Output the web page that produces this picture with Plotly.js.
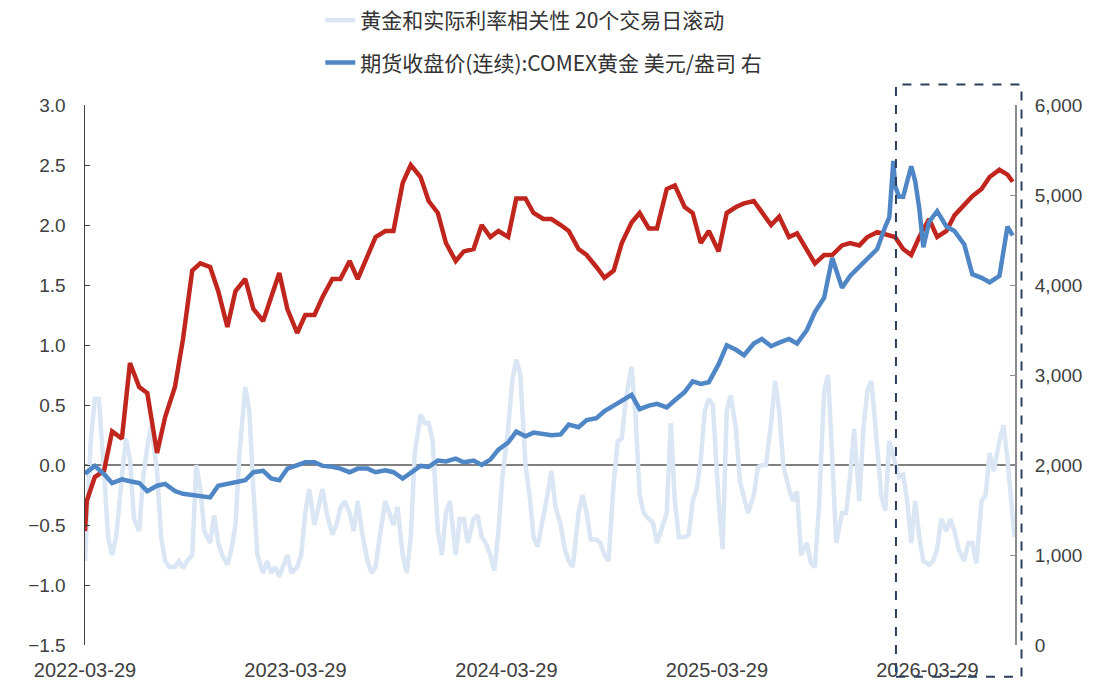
<!DOCTYPE html>
<html>
<head>
<meta charset="utf-8">
<script src="https://cdn.plot.ly/plotly-3.0.1.min.js"></script>
<style>
html, body { margin: 0; padding: 0; background: #fff; }
#chart { width: 1116px; height: 680px; }
</style>
</head>
<body>
<div id="chart"></div>
<script>
// 黄金和实际利率相关性 20个交易日滚动 (left axis), weekly readings
const corrDates = [
  "2022-03-29",
  "2022-04-01","2022-04-08","2022-04-15","2022-04-22",
  "2022-05-01","2022-05-08","2022-05-15","2022-05-22",
  "2022-06-01","2022-06-08","2022-06-15","2022-06-22",
  "2022-07-01","2022-07-08","2022-07-15","2022-07-22",
  "2022-08-01","2022-08-08","2022-08-15","2022-08-22",
  "2022-09-01","2022-09-08","2022-09-15","2022-09-22",
  "2022-10-01","2022-10-08","2022-10-15","2022-10-22",
  "2022-11-01","2022-11-08","2022-11-15","2022-11-22",
  "2022-12-01","2022-12-08","2022-12-15","2022-12-22",
  "2023-01-01","2023-01-08","2023-01-15","2023-01-22",
  "2023-02-01","2023-02-08","2023-02-15","2023-02-22",
  "2023-03-01","2023-03-08","2023-03-15","2023-03-22",
  "2023-04-01","2023-04-08","2023-04-15","2023-04-22",
  "2023-05-01","2023-05-08","2023-05-15","2023-05-22",
  "2023-06-01","2023-06-08","2023-06-15","2023-06-22",
  "2023-07-01","2023-07-08","2023-07-15","2023-07-22",
  "2023-08-01","2023-08-08","2023-08-15","2023-08-22",
  "2023-09-01","2023-09-08","2023-09-15","2023-09-22",
  "2023-10-01","2023-10-08","2023-10-15","2023-10-22",
  "2023-11-01","2023-11-08","2023-11-15","2023-11-22",
  "2023-12-01","2023-12-08","2023-12-15","2023-12-22",
  "2024-01-01","2024-01-08","2024-01-15","2024-01-22",
  "2024-02-01","2024-02-08","2024-02-15","2024-02-22",
  "2024-03-01","2024-03-08","2024-03-15","2024-03-22",
  "2024-04-01","2024-04-08","2024-04-15","2024-04-22",
  "2024-05-01","2024-05-08","2024-05-15","2024-05-22",
  "2024-06-01","2024-06-08","2024-06-15","2024-06-22",
  "2024-07-01","2024-07-08","2024-07-15","2024-07-22",
  "2024-08-01","2024-08-08","2024-08-15","2024-08-22",
  "2024-09-01","2024-09-08","2024-09-15","2024-09-22",
  "2024-10-01","2024-10-08","2024-10-15","2024-10-22",
  "2024-11-01","2024-11-08","2024-11-15","2024-11-22",
  "2024-12-01","2024-12-08","2024-12-15","2024-12-22",
  "2025-01-01","2025-01-08","2025-01-15","2025-01-22",
  "2025-02-01","2025-02-08","2025-02-15","2025-02-22",
  "2025-03-01","2025-03-08","2025-03-15","2025-03-22",
  "2025-04-01","2025-04-08","2025-04-15","2025-04-22",
  "2025-05-01","2025-05-08","2025-05-15","2025-05-22",
  "2025-06-01","2025-06-08","2025-06-15","2025-06-22",
  "2025-07-01","2025-07-08","2025-07-15","2025-07-22",
  "2025-08-01","2025-08-08","2025-08-15","2025-08-22",
  "2025-09-01","2025-09-08","2025-09-15","2025-09-22",
  "2025-10-01","2025-10-08","2025-10-15","2025-10-22",
  "2025-11-01","2025-11-08","2025-11-15","2025-11-22",
  "2025-12-01","2025-12-08","2025-12-15","2025-12-22",
  "2026-01-01","2026-01-08","2026-01-15","2026-01-22",
  "2026-02-01","2026-02-08","2026-02-15","2026-02-22",
  "2026-03-01","2026-03-08","2026-03-15","2026-03-22",
  "2026-04-01","2026-04-08","2026-04-15","2026-04-22",
  "2026-05-01","2026-05-08","2026-05-15","2026-05-22",
  "2026-06-01","2026-06-08","2026-06-15","2026-06-22",
  "2026-07-01","2026-07-08","2026-07-15","2026-07-22",
  "2026-08-01","2026-08-08","2026-08-15","2026-08-22",
  "2026-08-27"
];
const corrValues = [
  -0.80,
  -0.50, 0.20, 0.55, 0.55,
  -0.05, -0.60, -0.75, -0.60,
  -0.10, 0.22, 0.05, -0.45,
  -0.55, -0.10, 0.15, 0.33,
  -0.05, -0.60, -0.80, -0.85,
  -0.85, -0.80, -0.86, -0.80,
  -0.75, 0.00, -0.20, -0.55,
  -0.65, -0.42, -0.65, -0.75,
  -0.83, -0.70, -0.50, 0.10,
  0.65, 0.45, -0.20, -0.75,
  -0.90, -0.80, -0.90, -0.85,
  -0.93, -0.85, -0.75, -0.90,
  -0.85, -0.75, -0.40, -0.20,
  -0.50, -0.35, -0.20, -0.40,
  -0.58, -0.50, -0.36, -0.30,
  -0.40, -0.55, -0.30, -0.55,
  -0.80, -0.90, -0.85, -0.60,
  -0.30, -0.40, -0.50, -0.35,
  -0.75, -0.90, -0.60, 0.10,
  0.42, 0.35, 0.35, 0.20,
  -0.55, -0.75, -0.40, -0.30,
  -0.75, -0.45, -0.45, -0.65,
  -0.45, -0.42, -0.60, -0.65,
  -0.75, -0.88, -0.55, -0.10,
  0.30, 0.70, 0.88, 0.75,
  0.00, -0.25, -0.60, -0.68,
  -0.45, -0.25, -0.05, -0.35,
  -0.50, -0.70, -0.80, -0.85,
  -0.40, -0.25, -0.40, -0.62,
  -0.62, -0.65, -0.75, -0.80,
  -0.15, 0.20, 0.22, 0.55,
  0.82, 0.40, -0.25, -0.40,
  -0.45, -0.48, -0.65, -0.55,
  -0.40, 0.35, -0.30, -0.60,
  -0.60, -0.58, -0.30, -0.20,
  0.05, 0.45, 0.55, 0.50,
  -0.30, -0.70, 0.45, 0.58,
  0.30, -0.14, -0.28, -0.40,
  -0.25, -0.02, 0.00, 0.00,
  0.35, 0.70, 0.45, 0.00,
  -0.20, -0.30, -0.22, -0.75,
  -0.65, -0.82, -0.85, -0.35,
  0.62, 0.75, 0.05, -0.65,
  -0.40, -0.40, -0.10, 0.30,
  -0.30, 0.30, 0.62, 0.70,
  0.15, -0.25, -0.38, 0.20,
  0.02, -0.10, -0.08, -0.30,
  -0.65, -0.30, -0.60, -0.80,
  -0.83, -0.80, -0.70, -0.45,
  -0.55, -0.45, -0.55, -0.70,
  -0.80, -0.65, -0.65, -0.82,
  -0.30, -0.25, 0.10, -0.05,
  0.20, 0.33, 0.05, -0.35,
  -0.60
];

// red series, left axis (no legend entry in the source), half-monthly readings
const redDates = [
  "2022-03-29",
  "2022-04-01","2022-04-15","2022-05-01","2022-05-15","2022-06-01","2022-06-15",
  "2022-07-01","2022-07-15","2022-08-01","2022-08-15","2022-09-01","2022-09-15",
  "2022-10-01","2022-10-15","2022-11-01","2022-11-15","2022-12-01","2022-12-15",
  "2023-01-01","2023-01-15","2023-02-01","2023-02-15","2023-03-01","2023-03-15",
  "2023-04-01","2023-04-15","2023-05-01","2023-05-15","2023-06-01","2023-06-15",
  "2023-07-01","2023-07-15","2023-08-01","2023-08-15","2023-09-01","2023-09-15",
  "2023-10-01","2023-10-15","2023-11-01","2023-11-15","2023-12-01","2023-12-15",
  "2024-01-01","2024-01-15","2024-02-01","2024-02-15","2024-03-01","2024-03-15",
  "2024-04-01","2024-04-15","2024-05-01","2024-05-15","2024-06-01","2024-06-15",
  "2024-07-01","2024-07-15","2024-08-01","2024-08-15","2024-09-01","2024-09-15",
  "2024-10-01","2024-10-15","2024-11-01","2024-11-15","2024-12-01","2024-12-15",
  "2025-01-01","2025-01-15","2025-02-01","2025-02-15","2025-03-01","2025-03-15",
  "2025-04-01","2025-04-15","2025-05-01","2025-05-15","2025-06-01","2025-06-15",
  "2025-07-01","2025-07-15","2025-08-01","2025-08-15","2025-09-01","2025-09-15",
  "2025-10-01","2025-10-15","2025-11-01","2025-11-15","2025-12-01","2025-12-15",
  "2026-01-01","2026-01-15","2026-02-01","2026-02-15","2026-03-01","2026-03-15",
  "2026-04-01","2026-04-15","2026-05-01","2026-05-15","2026-06-01","2026-06-15",
  "2026-07-01","2026-07-15","2026-08-01","2026-08-15",
  "2026-08-24"
];
const redValues = [
  -0.55,
  -0.30, -0.10, -0.05, 0.28, 0.22, 0.85,
  0.65, 0.60, 0.10, 0.40, 0.65, 1.05,
  1.62, 1.68, 1.65, 1.45, 1.15, 1.45,
  1.55, 1.30, 1.20, 1.40, 1.60, 1.30,
  1.10, 1.25, 1.25, 1.40, 1.55, 1.55,
  1.70, 1.55, 1.75, 1.90, 1.95, 1.95,
  2.35, 2.50, 2.40, 2.20, 2.10, 1.85,
  1.70, 1.78, 1.80, 2.00, 1.90, 1.95,
  1.90, 2.22, 2.22, 2.10, 2.05, 2.05,
  2.00, 1.95, 1.80, 1.75, 1.65, 1.56,
  1.62, 1.85, 2.02, 2.10, 1.97, 1.97,
  2.30, 2.33, 2.15, 2.10, 1.85, 1.95,
  1.78, 2.10, 2.15, 2.18, 2.20, 2.10,
  2.00, 2.07, 1.90, 1.93, 1.80, 1.68,
  1.75, 1.75, 1.83, 1.85, 1.83, 1.90,
  1.94, 1.92, 1.90, 1.80, 1.75, 1.90,
  2.05, 1.90, 1.95, 2.08, 2.17, 2.24,
  2.30, 2.40, 2.46, 2.42,
  2.36
];

// 期货收盘价(连续):COMEX黄金 美元/盎司 (right axis)
const goldDates = [
  "2022-03-29",
  "2022-04-01","2022-04-15","2022-05-01","2022-05-15","2022-06-01","2022-06-15",
  "2022-07-01","2022-07-15","2022-08-01","2022-08-15","2022-09-01","2022-09-15",
  "2022-10-01","2022-10-15","2022-11-01","2022-11-15","2022-12-01","2022-12-15",
  "2023-01-01","2023-01-15","2023-02-01","2023-02-15","2023-03-01","2023-03-15",
  "2023-04-01","2023-04-15","2023-05-01","2023-05-15","2023-06-01","2023-06-15",
  "2023-07-01","2023-07-15","2023-08-01","2023-08-15","2023-09-01","2023-09-15",
  "2023-10-01","2023-10-15","2023-11-01","2023-11-15","2023-12-01","2023-12-15",
  "2024-01-01","2024-01-15","2024-02-01","2024-02-15","2024-03-01","2024-03-15",
  "2024-04-01","2024-04-15","2024-05-01","2024-05-15","2024-06-01","2024-06-15",
  "2024-07-01","2024-07-15","2024-08-01","2024-08-15","2024-09-01","2024-09-15",
  "2024-10-01","2024-10-15","2024-11-01","2024-11-15","2024-12-01","2024-12-15",
  "2025-01-01","2025-01-15","2025-02-01","2025-02-15","2025-03-01","2025-03-15",
  "2025-04-01","2025-04-15","2025-05-01","2025-05-15","2025-06-01","2025-06-15",
  "2025-07-01","2025-07-15","2025-08-01","2025-08-15","2025-09-01","2025-09-15",
  "2025-10-01","2025-10-15","2025-11-01","2025-11-15","2025-12-01","2025-12-15",
  "2026-01-01","2026-01-15","2026-01-22","2026-01-29",
  "2026-02-01","2026-02-08","2026-02-15","2026-02-22",
  "2026-03-01","2026-03-08","2026-03-15","2026-03-22",
  "2026-04-01","2026-04-15","2026-05-01","2026-05-15","2026-06-01","2026-06-15",
  "2026-07-01","2026-07-15","2026-08-01","2026-08-15",
  "2026-08-24"
];
const goldValues = [
  1900,
  1920, 1990, 1900, 1800, 1840, 1820,
  1800, 1710, 1770, 1790, 1710, 1680,
  1665, 1650, 1640, 1770, 1790, 1800,
  1830, 1920, 1935, 1850, 1830, 1960,
  2000, 2030, 2030, 1990, 1980, 1960,
  1920, 1960, 1960, 1920, 1940, 1920,
  1850, 1920, 1990, 1980, 2050, 2040,
  2070, 2030, 2050, 2000, 2060, 2170,
  2250, 2370, 2320, 2360, 2340, 2330,
  2340, 2450, 2420, 2500, 2520, 2600,
  2660, 2720, 2780, 2620, 2660, 2680,
  2640, 2720, 2810, 2930, 2900, 2920,
  3120, 3330, 3280, 3220, 3350, 3400,
  3320, 3360, 3400, 3350, 3500, 3700,
  3860, 4300, 3970, 4100, 4200, 4300,
  4400, 4650, 4750, 5380,
  5100, 4980, 4980, 5150,
  5320, 5150, 4850, 4420,
  4700, 4820, 4650, 4600, 4450, 4120,
  4080, 4030, 4100, 4650,
  4550
];

const tickDates = ["2022-03-29", "2023-03-29", "2024-03-29", "2025-03-29", "2026-03-29"];
const xRange = ["2022-03-29", "2026-08-28"];

const tickFont = {family: "Liberation Sans, Arial, sans-serif", size: 19, color: "#404040"};

const traces = [
    {
        type: "scatter",
        mode: "lines",
        name: "黄金和实际利率相关性 20个交易日滚动",
        legendgroup: "a",
        x: corrDates,
        y: corrValues,
        line: {color: "#dae6f3", width: 4.5},
        yaxis: "y",
    },
    {
        type: "scatter",
        mode: "lines",
        name: "red",
        showlegend: false,
        x: redDates,
        y: redValues,
        line: {color: "#c0261d", width: 4.5},
        yaxis: "y",
    },
    {
        type: "scatter",
        mode: "lines",
        name: "期货收盘价(连续):COMEX黄金 美元/盎司 右",
        legendgroup: "b",
        x: goldDates,
        y: goldValues,
        line: {color: "#4f86c6", width: 4.5},
        yaxis: "y2",
    },
];

const layout = {
    width: 1116,
    height: 680,
    margin: {l: 85, r: 101, t: 105, b: 35},
    paper_bgcolor: "#fff",
    plot_bgcolor: "#fff",
    showlegend: true,
    legend: {
        orientation: "v",
        x: 0.253,
        xanchor: "left",
        yref: "container",
        y: 1,
        yanchor: "top",
        traceorder: "grouped",
        tracegroupgap: 12,
        bgcolor: "rgba(0,0,0,0)",
        font: {family: "Noto Sans CJK SC, sans-serif", size: 21, color: "#333"},
    },
    xaxis: {
        type: "date",
        range: xRange,
        tickvals: tickDates,
        ticktext: tickDates,
        tickfont: {family: tickFont.family, size: 20, color: tickFont.color},
        ticklabelstandoff: 11,
        showgrid: false,
        showline: false,
        zeroline: false,
        ticks: "",
        automargin: false,
    },
    yaxis: {
        range: [-1.5, 3.0],
        dtick: 0.5,
        tickformat: ".1f",
        tickfont: tickFont,
        ticklabelstandoff: 14,
        showgrid: false,
        showline: true,
        linecolor: "#404040",
        linewidth: 1.5,
        ticks: "inside",
        ticklen: 5,
        tickcolor: "#404040",
        zeroline: true,
        zerolinecolor: "#808080",
        zerolinewidth: 2,
        automargin: false,
    },
    yaxis2: {
        overlaying: "y",
        side: "right",
        range: [0, 6000],
        dtick: 1000,
        tickformat: ",d",
        tickfont: tickFont,
        ticklabelstandoff: 14,
        showgrid: false,
        showline: true,
        linecolor: "#8c8c8c",
        linewidth: 2,
        ticks: "inside",
        ticklen: 5,
        tickcolor: "#8c8c8c",
        zeroline: false,
        automargin: false,
    },
    shapes: [
        {
            type: "rect",
            xref: "paper",
            yref: "paper",
            x0: 0.872,
            x1: 1.007,
            y0: -0.059,
            y1: 1.038,
            line: {color: "#2b3f5c", width: 2, dash: "dash"},
            fillcolor: "rgba(0,0,0,0)",
        },
    ],
};

Plotly.newPlot("chart", traces, layout, {displayModeBar: false, staticPlot: true});
</script>
</body>
</html>
